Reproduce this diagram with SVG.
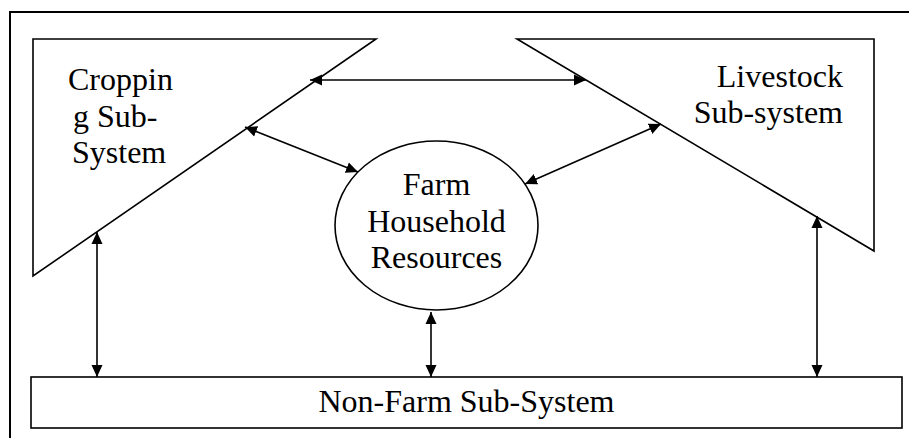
<svg xmlns="http://www.w3.org/2000/svg" width="909" height="438" viewBox="0 0 909 438">
  <style>
    .shape { fill: #ffffff; stroke: #000000; stroke-width: 1.6; }
    .frame { fill: none; stroke: #000000; stroke-width: 2; }
    .link { fill: none; stroke: #000000; stroke-width: 1.6; marker-start: url(#head); marker-end: url(#head); }
    text { font-size: 32px; fill: #000000; }
  </style>
  <defs>
    <marker id="head" viewBox="0 0 12 12" refX="12" refY="6" markerWidth="12" markerHeight="12" markerUnits="userSpaceOnUse" orient="auto-start-reverse">
      <path d="M0,0.5 L12,6 L0,11.5 Z" fill="#000000"/>
    </marker>
  </defs>

  <rect width="909" height="438" fill="#ffffff"/>
  <!-- page frame, running off the right and bottom edges -->
  <rect class="frame" x="10" y="12" width="930" height="460"/>

  <g font-family="'Liberation Serif', 'DejaVu Serif', serif">
    <g id="cropping">
      <polygon class="shape" points="33,39 376,39 33,276"/>
      <text x="68" y="90">Croppin</text>
      <text x="73" y="127">g Sub-</text>
      <text x="72" y="163">System</text>
    </g>

    <g id="livestock">
      <polygon class="shape" points="517,39 874,39 874,251"/>
      <text x="843" y="87" text-anchor="end">Livestock</text>
      <text x="843" y="123" text-anchor="end">Sub-system</text>
    </g>

    <g id="household">
      <ellipse class="shape" cx="436.5" cy="225.5" rx="101.5" ry="84.5"/>
      <text x="436.5" y="195" text-anchor="middle">Farm</text>
      <text x="436.5" y="232" text-anchor="middle">Household</text>
      <text x="436.5" y="268" text-anchor="middle">Resources</text>
    </g>

    <g id="nonfarm">
      <rect class="shape" x="31" y="377" width="871" height="51" stroke-width="2"/>
      <text x="466.5" y="412" text-anchor="middle">Non-Farm Sub-System</text>
    </g>
  </g>

  <g id="connectors">
    <line class="link" x1="310" y1="80" x2="586" y2="80"/>
    <line class="link" x1="245" y1="127" x2="358" y2="172"/>
    <line class="link" x1="525" y1="184" x2="661" y2="124"/>
    <line class="link" x1="97" y1="232" x2="97" y2="377"/>
    <line class="link" x1="431" y1="312" x2="431" y2="377"/>
    <line class="link" x1="817" y1="216" x2="817" y2="377"/>
  </g>
</svg>
